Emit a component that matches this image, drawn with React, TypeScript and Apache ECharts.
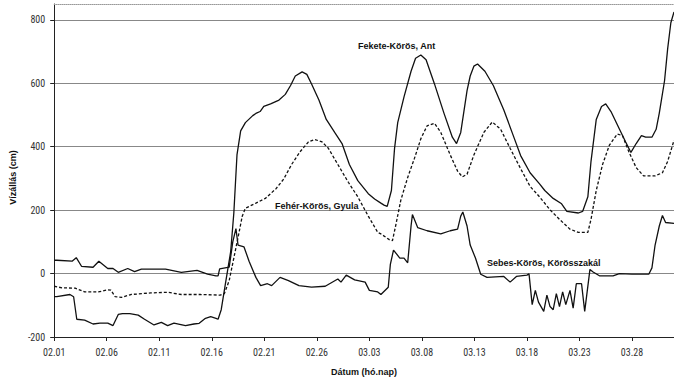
import React, { useEffect, useRef } from "react";
import * as echarts from "echarts";

// x = days since 02.01, y = water level (cm)
const tickLabels = ["02.01", "02.06", "02.11", "02.16", "02.21", "02.26", "03.03", "03.08", "03.13", "03.18", "03.23", "03.28"];
const tickStep = 5;
const dayMax = 59;

const feketeAnt: number[][] = [
  [0, -73], [0.25, -73], [1.5, -66], [1.85, -73], [2.15, -144], [2.9, -147], [3.7, -159], [4.35, -156], [5.1, -156], [5.6, -164],
  [6.1, -129], [6.5, -126], [7.2, -126], [8.0, -131], [8.6, -144], [9.5, -162], [10.2, -154], [10.8, -164], [11.4, -156], [12.5, -164],
  [13.3, -159], [13.8, -157], [14.4, -141], [14.9, -136], [15.4, -141], [15.6, -144], [15.9, -114], [16.3, -32], [16.8, 69], [17.1, 191],
  [17.4, 374], [17.75, 450], [18.2, 476], [18.9, 498], [19.2, 505], [19.6, 511], [19.95, 527], [20.6, 535], [21.4, 547], [22.0, 565],
  [22.5, 593], [22.95, 623], [23.6, 636], [24.05, 628], [24.5, 598], [25.2, 547], [25.9, 486], [26.7, 445], [27.4, 410], [28.1, 344],
  [28.9, 293], [29.9, 252], [30.5, 235], [31.1, 222], [31.4, 216], [31.7, 212], [32.1, 262], [32.4, 395], [32.7, 476], [33.3, 557],
  [33.97, 638], [34.4, 679], [34.9, 689], [35.4, 674], [36.2, 598], [37.1, 506], [37.9, 430], [38.3, 410], [38.7, 445], [39.3, 577],
  [39.6, 623], [39.95, 654], [40.3, 661], [41.0, 638], [41.8, 593], [42.8, 516], [43.7, 435], [44.4, 372], [45.3, 318], [46.2, 283],
  [46.7, 262], [47.5, 237], [48.3, 220], [48.8, 196], [49.9, 191], [50.3, 196], [50.8, 242], [51.1, 354], [51.6, 486], [52.1, 527],
  [52.5, 535], [53.0, 511], [53.8, 456], [54.4, 415], [54.9, 382], [55.4, 410], [55.9, 435], [56.3, 430], [56.9, 430], [57.3, 455],
  [57.6, 506], [58.1, 608], [58.4, 710], [58.7, 791], [59, 825],
];

const feherGyula: number[][] = [
  [0, -40], [0.75, -45], [2.0, -46], [2.9, -58], [4.2, -58], [5.1, -51], [5.4, -52], [5.8, -73], [6.4, -75], [7.3, -66],
  [9.2, -61], [10.8, -59], [12.1, -66], [13.9, -66], [15.8, -68], [16.2, -63], [16.66, -22], [17.1, 49], [17.6, 130], [17.9, 181],
  [18.2, 206], [19.2, 222], [20.1, 237], [21.1, 267], [21.85, 298], [22.6, 344], [23.4, 384], [24.2, 415], [24.8, 423], [25.5, 415],
  [26.1, 395], [27.0, 344], [28.0, 288], [28.9, 242], [29.9, 181], [30.8, 130], [31.1, 125], [31.9, 107], [32.2, 104], [32.5, 150],
  [33.0, 232], [33.65, 303], [34.3, 364], [34.9, 425], [35.5, 466], [36.2, 474], [36.8, 445], [37.7, 374], [38.4, 323], [38.85, 305],
  [39.3, 313], [39.95, 374], [40.9, 445], [41.7, 478], [42.5, 455], [43.4, 395], [44.35, 334], [45.3, 275], [46.2, 242], [47.2, 201],
  [48.1, 171], [49.1, 140], [49.9, 130], [50.8, 130], [51.1, 171], [51.6, 262], [52.2, 344], [52.85, 405], [53.6, 440], [54.1, 435],
  [54.7, 384], [55.4, 334], [56.1, 308], [57.2, 308], [57.9, 318], [58.4, 354], [59, 420],
];

const sebesKorosszakal: number[][] = [
  [0, 42], [0.25, 42], [1.7, 39], [2.1, 50], [2.6, 23], [3.7, 20], [4.25, 39], [5.1, 16], [5.6, 16], [6.1, 4],
  [7.0, 16], [7.65, 6], [8.3, 14], [10.6, 14], [12.1, 4], [13.6, 10], [14.6, -2], [15.4, -7], [15.6, -7], [15.75, 15],
  [16.66, 20], [17.0, 100], [17.3, 142], [17.5, 90], [18.07, 84], [18.55, 39], [19.2, -12], [19.65, -38], [20.3, -32], [20.7, -38],
  [21.5, -12], [22.3, -22], [23.3, -38], [24.5, -43], [25.8, -40], [27.0, -17], [27.3, -27], [27.8, -5], [28.6, -20], [29.6, -27],
  [30.0, -53], [30.8, -58], [31.1, -66], [31.8, -43], [32.0, 29], [32.3, 74], [32.9, 49], [33.3, 49], [33.65, 34], [33.97, 150],
  [34.1, 186], [34.6, 145], [35.5, 135], [36.8, 125], [37.7, 135], [38.4, 140], [38.7, 181], [38.9, 194], [39.3, 150], [39.6, 90],
  [40.1, 49], [40.6, -2], [41.2, -12], [42.8, -9], [43.4, -27], [44.0, -9], [45.0, -5], [45.2, -1], [45.5, -98], [45.8, -53],
  [46.1, -90], [46.6, -119], [46.9, -68], [47.2, -104], [47.5, -114], [47.8, -63], [48.1, -104], [48.4, -58], [48.7, -98], [49.1, -53],
  [49.4, -109], [49.7, -32], [50.2, -32], [50.5, -119], [51.0, 13], [51.3, 5], [51.9, -7], [53.2, -7], [53.8, 0], [55.0, -2],
  [56.6, -2], [56.9, 18], [57.2, 90], [57.6, 150], [57.9, 183], [58.2, 161], [59, 158],
];

const seriesNames = ["Fekete-Körös, Ant", "Fehér-Körös, Gyula", "Sebes-Körös, Körösszakál"];
const labelAnchors: number[][] = [[32.6, 719], [25.0, 214], [46.6, 34]];

const TICK_FONT = "'Roboto Condensed', 'Liberation Sans Narrow', 'Liberation Sans', Arial, sans-serif";
const BOLD_FONT = "'Liberation Sans', Arial, sans-serif";

export default function App() {
  const ref = useRef<HTMLDivElement>(null);
  useEffect(() => {
    document.body.style.margin = "0";
    const chart = echarts.init(ref.current!, null, { renderer: "svg" });
    const mk = (i: number) => ({
      symbol: "circle",
      symbolSize: 0,
      silent: true,
      data: [{ coord: labelAnchors[i] }],
      label: {
        show: true,
        position: "inside",
        formatter: seriesNames[i],
        fontFamily: BOLD_FONT,
        fontWeight: "bold",
        fontSize: 9,
        color: "#111",
      },
    });
    chart.setOption({
      animation: false,
      backgroundColor: "#fff",
      textStyle: { fontFamily: TICK_FONT },
      grid: { left: 50, right: 0, top: 4, bottom: 32 },
      xAxis: [
        {
          type: "value",
          min: 0,
          max: dayMax,
          interval: tickStep,
          axisLine: { onZero: false, lineStyle: { color: "#222", width: 1 } },
          axisTick: { show: true, length: 4, lineStyle: { color: "#222" } },
          axisLabel: {
            formatter: (v: number) => (v % tickStep === 0 ? tickLabels[v / tickStep] ?? "" : ""),
            showMaxLabel: false,
            fontSize: 10,
            color: "#333",
            margin: 10,
            fontFamily: TICK_FONT,
          },
          splitLine: { show: false },
          name: "Dátum (hó.nap)",
          nameLocation: "middle",
          nameGap: 30,
          nameTextStyle: { fontWeight: "bold", fontSize: 9, color: "#111", fontFamily: BOLD_FONT },
        },
        {
          type: "value",
          position: "top",
          min: 0,
          max: dayMax,
          axisLine: { onZero: false, lineStyle: { color: "#999", type: "dotted", width: 1 } },
          axisTick: { show: false },
          axisLabel: { show: false },
          splitLine: { show: false },
        },
      ],
      yAxis: {
        type: "value",
        min: -200,
        max: 850,
        interval: 200,
        axisLine: { show: true, onZero: false, lineStyle: { color: "#222", width: 1 } },
        axisTick: { show: true, length: 4, lineStyle: { color: "#222" } },
        axisLabel: {
          formatter: (v: number) => (v % 200 === 0 && v <= 800 ? String(v) : ""),
          showMaxLabel: false,
          fontSize: 10,
          color: "#333",
          margin: 9,
          fontFamily: TICK_FONT,
        },
        splitLine: { show: true, showMaxLine: false, lineStyle: { color: "#888", width: 1 } },
        name: "Vízállás (cm)",
        nameLocation: "middle",
        nameRotate: 90,
        nameGap: 32,
        nameTextStyle: { fontWeight: "bold", fontSize: 9, color: "#111", fontFamily: BOLD_FONT, padding: [0, 14, 0, 0] },
      },
      series: [
        {
          name: seriesNames[0],
          type: "line",
          data: feketeAnt,
          showSymbol: false,
          symbol: "none",
          lineStyle: { color: "#111", width: 1.3 },
          markPoint: mk(0),
        },
        {
          name: seriesNames[1],
          type: "line",
          data: feherGyula,
          showSymbol: false,
          symbol: "none",
          lineStyle: { color: "#111", width: 1.3, type: [3, 2] },
          markPoint: mk(1),
        },
        {
          name: seriesNames[2],
          type: "line",
          data: sebesKorosszakal,
          showSymbol: false,
          symbol: "none",
          lineStyle: { color: "#111", width: 1.3 },
          markPoint: mk(2),
        },
      ],
    });
    return () => chart.dispose();
  }, []);
  return <div ref={ref} style={{ width: 674, height: 381 }} />;
}
